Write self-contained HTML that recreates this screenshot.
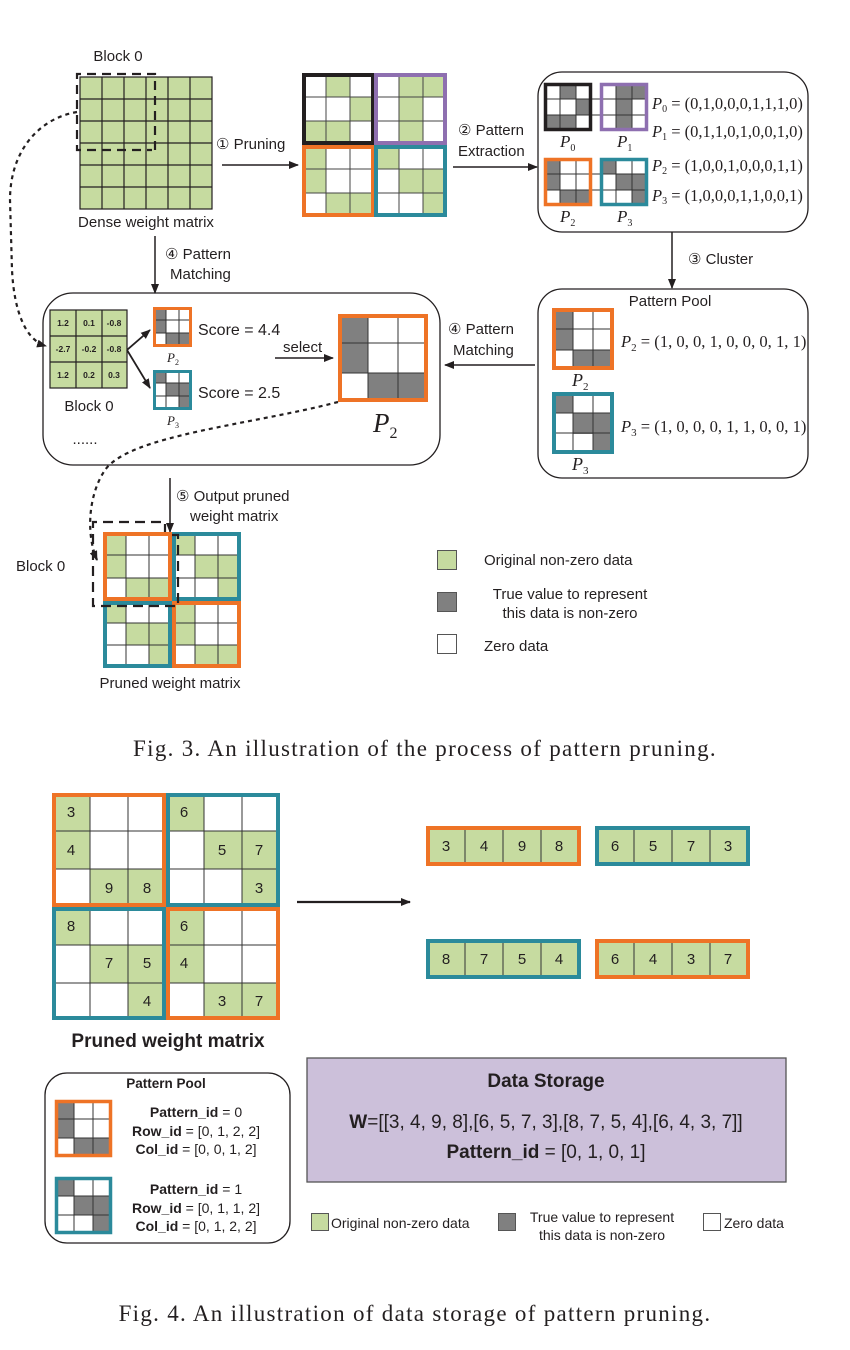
<!DOCTYPE html>
<html><head><meta charset="utf-8"><style>
html,body{margin:0;padding:0;background:#fff;}
svg{display:block;}
text{font-family:"Liberation Sans",Arial,sans-serif;fill:#231f20;}
.s{font-family:"Liberation Serif",serif;}
.i{font-family:"Liberation Serif",serif;font-style:italic;}
</style></head><body>
<svg width="850" height="1350" viewBox="0 0 850 1350" xmlns="http://www.w3.org/2000/svg">
<defs>
<marker id="ah" markerWidth="10" markerHeight="8" refX="9" refY="4" orient="auto" markerUnits="userSpaceOnUse"><path d="M0,0 L10,4 L0,8 Z" fill="#231f20"/></marker>
</defs>

<!-- ========== FIG 3 ========== -->
<text x="118" y="61" font-size="15" text-anchor="middle">Block 0</text>
<rect x="80" y="77" width="132" height="132" fill="#c6dba0" stroke="#231f20" stroke-width="1.2"/>
<g stroke="#231f20" stroke-width="1.2">
<line x1="102" y1="77" x2="102" y2="209"/><line x1="124" y1="77" x2="124" y2="209"/><line x1="146" y1="77" x2="146" y2="209"/><line x1="168" y1="77" x2="168" y2="209"/><line x1="190" y1="77" x2="190" y2="209"/>
<line x1="80" y1="99" x2="212" y2="99"/><line x1="80" y1="121" x2="212" y2="121"/><line x1="80" y1="143" x2="212" y2="143"/><line x1="80" y1="165" x2="212" y2="165"/><line x1="80" y1="187" x2="212" y2="187"/>
</g>
<path d="M155,150 L155,74 L77,74 L77,150 L152,150" fill="none" stroke="#231f20" stroke-width="2.2" stroke-dasharray="9,6"/>
<text x="146" y="227" font-size="15" text-anchor="middle">Dense weight matrix</text>

<text x="216" y="149" font-size="15"><tspan class="s">①</tspan> Pruning</text>
<line x1="222" y1="165" x2="298" y2="165" stroke="#231f20" stroke-width="1.5" marker-end="url(#ah)"/>

<g>
<rect x="302" y="73" width="145" height="144" fill="#fff"/>
<g fill="#c6dba0">
<rect x="326" y="73" width="24" height="24"/><rect x="350" y="97" width="24" height="24"/><rect x="302" y="121" width="24" height="24"/><rect x="326" y="121" width="24" height="24"/>
<rect x="399" y="73" width="24" height="24"/><rect x="423" y="73" width="24" height="24"/><rect x="399" y="97" width="24" height="24"/><rect x="399" y="121" width="24" height="24"/>
<rect x="302" y="145" width="24" height="24"/><rect x="302" y="169" width="24" height="24"/><rect x="326" y="193" width="24" height="24"/><rect x="350" y="193" width="24" height="24"/>
<rect x="375" y="145" width="24" height="24"/><rect x="399" y="169" width="24" height="24"/><rect x="423" y="169" width="24" height="24"/><rect x="423" y="193" width="24" height="24"/>
</g>
<g stroke="#444" stroke-width="1">
<line x1="326" y1="73" x2="326" y2="217"/><line x1="350" y1="73" x2="350" y2="217"/><line x1="399" y1="73" x2="399" y2="217"/><line x1="423" y1="73" x2="423" y2="217"/>
<line x1="302" y1="97" x2="447" y2="97"/><line x1="302" y1="121" x2="447" y2="121"/><line x1="302" y1="169" x2="447" y2="169"/><line x1="302" y1="193" x2="447" y2="193"/>
</g>
<rect x="304" y="75" width="69" height="68" fill="none" stroke="#231f20" stroke-width="4"/>
<rect x="376" y="75" width="69" height="68" fill="none" stroke="#8e6fb0" stroke-width="4"/>
<rect x="304" y="147" width="69" height="68" fill="none" stroke="#ee7326" stroke-width="4"/>
<rect x="376" y="147" width="69" height="68" fill="none" stroke="#2b8a9b" stroke-width="4"/>
</g>

<text x="458" y="135" font-size="15"><tspan class="s">②</tspan> Pattern</text>
<text x="458" y="156" font-size="15">Extraction</text>
<line x1="453" y1="167" x2="537" y2="167" stroke="#231f20" stroke-width="1.5" marker-end="url(#ah)"/>

<rect x="538" y="72" width="270" height="160" rx="24" fill="none" stroke="#231f20" stroke-width="1.3"/>
<g>
<rect x="544" y="83" width="48" height="48" fill="#fff"/><rect x="600" y="83" width="48" height="48" fill="#fff"/><rect x="544" y="158" width="48" height="48" fill="#fff"/><rect x="600" y="158" width="48" height="48" fill="#fff"/>
<g fill="#808080">
<rect x="560" y="83" width="16" height="16"/><rect x="576" y="99" width="16" height="16"/><rect x="544" y="115" width="16" height="16"/><rect x="560" y="115" width="16" height="16"/>
<rect x="616" y="83" width="16" height="16"/><rect x="632" y="83" width="16" height="16"/><rect x="616" y="99" width="16" height="16"/><rect x="616" y="115" width="16" height="16"/>
<rect x="544" y="158" width="16" height="16"/><rect x="544" y="174" width="16" height="16"/><rect x="560" y="190" width="16" height="16"/><rect x="576" y="190" width="16" height="16"/>
<rect x="600" y="158" width="16" height="16"/><rect x="616" y="174" width="16" height="16"/><rect x="632" y="174" width="16" height="16"/><rect x="632" y="190" width="16" height="16"/>
</g>
<g stroke="#333" stroke-width="1">
<line x1="560" y1="83" x2="560" y2="131"/><line x1="576" y1="83" x2="576" y2="131"/><line x1="616" y1="83" x2="616" y2="131"/><line x1="632" y1="83" x2="632" y2="131"/>
<line x1="544" y1="99" x2="648" y2="99"/><line x1="544" y1="115" x2="648" y2="115"/>
<line x1="560" y1="158" x2="560" y2="206"/><line x1="576" y1="158" x2="576" y2="206"/><line x1="616" y1="158" x2="616" y2="206"/><line x1="632" y1="158" x2="632" y2="206"/>
<line x1="544" y1="174" x2="648" y2="174"/><line x1="544" y1="190" x2="648" y2="190"/>
</g>
<rect x="545.5" y="84.5" width="45" height="45" fill="none" stroke="#231f20" stroke-width="3.5"/>
<rect x="601.5" y="84.5" width="45" height="45" fill="none" stroke="#8e6fb0" stroke-width="3.5"/>
<rect x="545.5" y="159.5" width="45" height="45" fill="none" stroke="#ee7326" stroke-width="3.5"/>
<rect x="601.5" y="159.5" width="45" height="45" fill="none" stroke="#2b8a9b" stroke-width="3.5"/>
</g>
<text x="560" y="147" font-size="17" class="i">P<tspan font-size="10" dy="4" font-style="normal">0</tspan></text>
<text x="617" y="147" font-size="17" class="i">P<tspan font-size="10" dy="4" font-style="normal">1</tspan></text>
<text x="560" y="222" font-size="17" class="i">P<tspan font-size="10" dy="4" font-style="normal">2</tspan></text>
<text x="617" y="222" font-size="17" class="i">P<tspan font-size="10" dy="4" font-style="normal">3</tspan></text>
<g font-size="16.5" class="s">
<text x="652" y="109" class="s"><tspan font-style="italic">P</tspan><tspan font-size="10" dy="3">0</tspan><tspan dy="-3"> = (0,1,0,0,0,1,1,1,0)</tspan></text>
<text x="652" y="137" class="s"><tspan font-style="italic">P</tspan><tspan font-size="10" dy="3">1</tspan><tspan dy="-3"> = (0,1,1,0,1,0,0,1,0)</tspan></text>
<text x="652" y="171" class="s"><tspan font-style="italic">P</tspan><tspan font-size="10" dy="3">2</tspan><tspan dy="-3"> = (1,0,0,1,0,0,0,1,1)</tspan></text>
<text x="652" y="201" class="s"><tspan font-style="italic">P</tspan><tspan font-size="10" dy="3">3</tspan><tspan dy="-3"> = (1,0,0,0,1,1,0,0,1)</tspan></text>
</g>

<line x1="672" y1="232" x2="672" y2="288" stroke="#231f20" stroke-width="1.5" marker-end="url(#ah)"/>
<text x="688" y="264" font-size="15"><tspan class="s">③</tspan> Cluster</text>

<rect x="538" y="289" width="270" height="189" rx="24" fill="none" stroke="#231f20" stroke-width="1.3"/>
<text x="670" y="306" font-size="15" text-anchor="middle">Pattern Pool</text>
<rect x="552" y="308" width="62" height="62" fill="#fff"/><rect x="552" y="392" width="62" height="62" fill="#fff"/>
<g fill="#808080">
<rect x="552" y="308" width="21" height="21"/><rect x="552" y="329" width="21" height="21"/><rect x="573" y="350" width="21" height="20"/><rect x="593" y="350" width="21" height="20"/>
<rect x="552" y="392" width="21" height="21"/><rect x="573" y="413" width="21" height="21"/><rect x="593" y="413" width="21" height="21"/><rect x="593" y="433" width="21" height="21"/>
</g>
<g stroke="#333" stroke-width="1">
<line x1="573" y1="308" x2="573" y2="370"/><line x1="593" y1="308" x2="593" y2="370"/><line x1="552" y1="329" x2="614" y2="329"/><line x1="552" y1="350" x2="614" y2="350"/>
<line x1="573" y1="392" x2="573" y2="454"/><line x1="593" y1="392" x2="593" y2="454"/><line x1="552" y1="413" x2="614" y2="413"/><line x1="552" y1="433" x2="614" y2="433"/>
</g>
<rect x="554" y="310" width="58" height="58" fill="none" stroke="#ee7326" stroke-width="4"/>
<rect x="554" y="394" width="58" height="58" fill="none" stroke="#2b8a9b" stroke-width="4"/>
<text x="572" y="386" font-size="18" class="i">P<tspan font-size="11" dy="4" font-style="normal">2</tspan></text>
<text x="572" y="470" font-size="18" class="i">P<tspan font-size="11" dy="4" font-style="normal">3</tspan></text>
<text x="621" y="347" font-size="16.6" class="s"><tspan font-style="italic">P</tspan><tspan font-size="11" dy="4">2</tspan><tspan dy="-4"> = (1, 0, 0, 1, 0, 0, 0, 1, 1)</tspan></text>
<text x="621" y="432" font-size="16.6" class="s"><tspan font-style="italic">P</tspan><tspan font-size="11" dy="4">3</tspan><tspan dy="-4"> = (1, 0, 0, 0, 1, 1, 0, 0, 1)</tspan></text>

<line x1="535" y1="365" x2="445" y2="365" stroke="#231f20" stroke-width="1.5" marker-end="url(#ah)"/>
<text x="448" y="334" font-size="15"><tspan class="s">④</tspan> Pattern</text>
<text x="453" y="355" font-size="15">Matching</text>

<line x1="155" y1="236" x2="155" y2="293" stroke="#231f20" stroke-width="1.5" marker-end="url(#ah)"/>
<text x="165" y="259" font-size="15"><tspan class="s">④</tspan> Pattern</text>
<text x="170" y="279" font-size="15">Matching</text>

<rect x="43" y="293" width="397" height="172" rx="30" fill="none" stroke="#231f20" stroke-width="1.3"/>
<rect x="50" y="310" width="77" height="78" fill="#c6dba0" stroke="#231f20" stroke-width="1.2"/>
<g stroke="#231f20" stroke-width="1.2"><line x1="76" y1="310" x2="76" y2="388"/><line x1="102" y1="310" x2="102" y2="388"/><line x1="50" y1="336" x2="127" y2="336"/><line x1="50" y1="362" x2="127" y2="362"/></g>
<g font-size="8.5" text-anchor="middle" font-weight="bold">
<text x="63" y="326">1.2</text><text x="89" y="326">0.1</text><text x="114" y="326">-0.8</text>
<text x="63" y="352">-2.7</text><text x="89" y="352">-0.2</text><text x="114" y="352">-0.8</text>
<text x="63" y="378">1.2</text><text x="89" y="378">0.2</text><text x="114" y="378">0.3</text>
</g>
<text x="89" y="411" font-size="15" text-anchor="middle">Block 0</text>
<text x="85" y="444" font-size="15" text-anchor="middle">......</text>
<line x1="127" y1="350" x2="150" y2="330" stroke="#231f20" stroke-width="1.8" marker-end="url(#ah)"/>
<line x1="127" y1="350" x2="150" y2="388" stroke="#231f20" stroke-width="1.8" marker-end="url(#ah)"/>
<rect x="153" y="307" width="39" height="40" fill="#fff"/><rect x="153" y="370" width="39" height="40" fill="#fff"/>
<g fill="#808080">
<rect x="153" y="307" width="13" height="13"/><rect x="153" y="320" width="13" height="13"/><rect x="166" y="333" width="13" height="14"/><rect x="179" y="333" width="13" height="14"/>
<rect x="153" y="370" width="13" height="13"/><rect x="166" y="383" width="13" height="13"/><rect x="179" y="383" width="13" height="13"/><rect x="179" y="396" width="13" height="14"/>
</g>
<g stroke="#333" stroke-width="1">
<line x1="166" y1="307" x2="166" y2="347"/><line x1="179" y1="307" x2="179" y2="347"/><line x1="153" y1="320" x2="192" y2="320"/><line x1="153" y1="333" x2="192" y2="333"/>
<line x1="166" y1="370" x2="166" y2="410"/><line x1="179" y1="370" x2="179" y2="410"/><line x1="153" y1="383" x2="192" y2="383"/><line x1="153" y1="396" x2="192" y2="396"/>
</g>
<rect x="154.5" y="308.5" width="36" height="37" fill="none" stroke="#ee7326" stroke-width="3"/>
<rect x="154.5" y="371.5" width="36" height="37" fill="none" stroke="#2b8a9b" stroke-width="3"/>
<text x="167" y="362" font-size="13" class="i">P<tspan font-size="8" dy="3" font-style="normal">2</tspan></text>
<text x="167" y="425" font-size="13" class="i">P<tspan font-size="8" dy="3" font-style="normal">3</tspan></text>
<text x="198" y="335" font-size="16">Score = 4.4</text>
<text x="198" y="398" font-size="16">Score = 2.5</text>
<text x="283" y="352" font-size="15">select</text>
<line x1="275" y1="358" x2="333" y2="358" stroke="#231f20" stroke-width="1.5" marker-end="url(#ah)"/>
<rect x="338" y="314" width="90" height="88" fill="#fff"/>
<g fill="#808080"><rect x="338" y="314" width="30" height="29"/><rect x="338" y="343" width="30" height="30"/><rect x="368" y="373" width="30" height="29"/><rect x="398" y="373" width="30" height="29"/></g>
<g stroke="#333" stroke-width="1"><line x1="368" y1="314" x2="368" y2="402"/><line x1="398" y1="314" x2="398" y2="402"/><line x1="338" y1="343" x2="428" y2="343"/><line x1="338" y1="373" x2="428" y2="373"/></g>
<rect x="340" y="316" width="86" height="84" fill="none" stroke="#ee7326" stroke-width="4"/>
<text x="373" y="432" font-size="27" class="i">P<tspan font-size="16" dy="6" font-style="normal">2</tspan></text>

<path d="M77,112 C40,118 10,150 10,200 L12,270 C14,310 25,340 46,346" fill="none" stroke="#231f20" stroke-width="2.2" stroke-dasharray="4,4" marker-end="url(#ah)"/>
<path d="M338,402 C250,425 130,435 105,470 C88,495 86,535 97,560" fill="none" stroke="#231f20" stroke-width="2.2" stroke-dasharray="4,4" marker-end="url(#ah)"/>

<line x1="170" y1="478" x2="170" y2="532" stroke="#231f20" stroke-width="1.5" marker-end="url(#ah)"/>
<text x="176" y="501" font-size="15"><tspan class="s">⑤</tspan> Output pruned</text>
<text x="190" y="521" font-size="15">weight matrix</text>

<rect x="103" y="532" width="138" height="136" fill="#fff"/>
<g fill="#c6dba0">
<rect x="103" y="532" width="23" height="23"/><rect x="103" y="555" width="23" height="23"/><rect x="126" y="578" width="23" height="23"/><rect x="149" y="578" width="23" height="23"/>
<rect x="172" y="532" width="23" height="23"/><rect x="195" y="555" width="23" height="23"/><rect x="218" y="555" width="23" height="23"/><rect x="218" y="578" width="23" height="23"/>
<rect x="103" y="601" width="23" height="22"/><rect x="126" y="623" width="23" height="22"/><rect x="149" y="623" width="23" height="22"/><rect x="149" y="645" width="23" height="23"/>
<rect x="172" y="601" width="23" height="22"/><rect x="172" y="623" width="23" height="22"/><rect x="195" y="645" width="23" height="23"/><rect x="218" y="645" width="23" height="23"/>
</g>
<g stroke="#333" stroke-width="1">
<line x1="126" y1="532" x2="126" y2="668"/><line x1="149" y1="532" x2="149" y2="668"/><line x1="195" y1="532" x2="195" y2="668"/><line x1="218" y1="532" x2="218" y2="668"/>
<line x1="103" y1="555" x2="241" y2="555"/><line x1="103" y1="578" x2="241" y2="578"/><line x1="103" y1="623" x2="241" y2="623"/><line x1="103" y1="645" x2="241" y2="645"/>
</g>
<rect x="105" y="534" width="65" height="65" fill="none" stroke="#ee7326" stroke-width="4"/>
<rect x="174" y="534" width="65" height="65" fill="none" stroke="#2b8a9b" stroke-width="4"/>
<rect x="105" y="603" width="65" height="63" fill="none" stroke="#2b8a9b" stroke-width="4"/>
<rect x="174" y="603" width="65" height="63" fill="none" stroke="#ee7326" stroke-width="4"/>
<path d="M172,535 L178,535 L178,606 L93,606 L93,522 L165,522 L165,532" fill="none" stroke="#231f20" stroke-width="2.2" stroke-dasharray="10,6"/>
<text x="16" y="571" font-size="15">Block 0</text>
<text x="170" y="688" font-size="15" text-anchor="middle">Pruned weight matrix</text>

<rect x="437.5" y="550.5" width="19" height="19" fill="#c6dba0" stroke="#555"/>
<rect x="437.5" y="592.5" width="19" height="19" fill="#808080" stroke="#555"/>
<rect x="437.5" y="634.5" width="19" height="19" fill="#fff" stroke="#555"/>
<text x="484" y="565" font-size="15">Original non-zero data</text>
<text x="570" y="599" font-size="15" text-anchor="middle">True value to represent</text>
<text x="570" y="618" font-size="15" text-anchor="middle">this data is non-zero</text>
<text x="484" y="651" font-size="15">Zero data</text>

<text x="425" y="756" font-size="23" letter-spacing="1.3" class="s" text-anchor="middle">Fig. 3.  An illustration of the process of pattern pruning.</text>

<!-- ========== FIG 4 ========== -->
<rect x="52" y="793" width="228" height="227" fill="#fff"/>
<g fill="#c6dba0">
<rect x="52" y="793" width="38" height="38"/><rect x="52" y="831" width="38" height="38"/><rect x="90" y="869" width="38" height="38"/><rect x="128" y="869" width="38" height="38"/>
<rect x="166" y="793" width="38" height="38"/><rect x="204" y="831" width="38" height="38"/><rect x="242" y="831" width="38" height="38"/><rect x="242" y="869" width="38" height="38"/>
<rect x="52" y="907" width="38" height="38"/><rect x="90" y="945" width="38" height="38"/><rect x="128" y="945" width="38" height="38"/><rect x="128" y="983" width="38" height="37"/>
<rect x="166" y="907" width="38" height="38"/><rect x="166" y="945" width="38" height="38"/><rect x="204" y="983" width="38" height="37"/><rect x="242" y="983" width="38" height="37"/>
</g>
<g stroke="#333" stroke-width="1">
<line x1="90" y1="793" x2="90" y2="1020"/><line x1="128" y1="793" x2="128" y2="1020"/><line x1="204" y1="793" x2="204" y2="1020"/><line x1="242" y1="793" x2="242" y2="1020"/>
<line x1="52" y1="831" x2="280" y2="831"/><line x1="52" y1="869" x2="280" y2="869"/><line x1="52" y1="945" x2="280" y2="945"/><line x1="52" y1="983" x2="280" y2="983"/>
</g>
<rect x="54" y="795" width="110" height="110" fill="none" stroke="#ee7326" stroke-width="4"/>
<rect x="168" y="795" width="110" height="110" fill="none" stroke="#2b8a9b" stroke-width="4"/>
<rect x="54" y="909" width="110" height="109" fill="none" stroke="#2b8a9b" stroke-width="4"/>
<rect x="168" y="909" width="110" height="109" fill="none" stroke="#ee7326" stroke-width="4"/>
<g font-size="15" text-anchor="middle">
<text x="71" y="817">3</text><text x="71" y="855">4</text><text x="109" y="893">9</text><text x="147" y="893">8</text>
<text x="184" y="817">6</text><text x="222" y="855">5</text><text x="259" y="855">7</text><text x="259" y="893">3</text>
<text x="71" y="931">8</text><text x="109" y="968">7</text><text x="147" y="968">5</text><text x="147" y="1006">4</text>
<text x="184" y="931">6</text><text x="184" y="968">4</text><text x="222" y="1006">3</text><text x="259" y="1006">7</text>
</g>
<text x="168" y="1047" font-size="19" font-weight="bold" text-anchor="middle">Pruned weight matrix</text>

<line x1="297" y1="902" x2="410" y2="902" stroke="#231f20" stroke-width="2.2" marker-end="url(#ah)"/>

<g>
<rect x="426" y="826" width="155" height="40" fill="#c6dba0"/><rect x="595" y="826" width="155" height="40" fill="#c6dba0"/>
<rect x="426" y="939" width="155" height="40" fill="#c6dba0"/><rect x="595" y="939" width="155" height="40" fill="#c6dba0"/>
<g stroke="#333" stroke-width="1">
<line x1="465" y1="826" x2="465" y2="866"/><line x1="503" y1="826" x2="503" y2="866"/><line x1="541" y1="826" x2="541" y2="866"/>
<line x1="634" y1="826" x2="634" y2="866"/><line x1="672" y1="826" x2="672" y2="866"/><line x1="710" y1="826" x2="710" y2="866"/>
<line x1="465" y1="939" x2="465" y2="979"/><line x1="503" y1="939" x2="503" y2="979"/><line x1="541" y1="939" x2="541" y2="979"/>
<line x1="634" y1="939" x2="634" y2="979"/><line x1="672" y1="939" x2="672" y2="979"/><line x1="710" y1="939" x2="710" y2="979"/>
</g>
<rect x="428" y="828" width="151" height="36" fill="none" stroke="#ee7326" stroke-width="4"/>
<rect x="597" y="828" width="151" height="36" fill="none" stroke="#2b8a9b" stroke-width="4"/>
<rect x="428" y="941" width="151" height="36" fill="none" stroke="#2b8a9b" stroke-width="4"/>
<rect x="597" y="941" width="151" height="36" fill="none" stroke="#ee7326" stroke-width="4"/>
<g font-size="15" text-anchor="middle">
<text x="446" y="851">3</text><text x="484" y="851">4</text><text x="522" y="851">9</text><text x="559" y="851">8</text>
<text x="615" y="851">6</text><text x="653" y="851">5</text><text x="691" y="851">7</text><text x="728" y="851">3</text>
<text x="446" y="964">8</text><text x="484" y="964">7</text><text x="522" y="964">5</text><text x="559" y="964">4</text>
<text x="615" y="964">6</text><text x="653" y="964">4</text><text x="691" y="964">3</text><text x="728" y="964">7</text>
</g>
</g>

<rect x="45" y="1073" width="245" height="170" rx="22" fill="none" stroke="#231f20" stroke-width="1.3"/>
<text x="166" y="1088" font-size="13.5" font-weight="bold" text-anchor="middle">Pattern Pool</text>
<rect x="55" y="1100" width="57" height="57" fill="#fff"/><rect x="55" y="1177" width="57" height="57" fill="#fff"/>
<g fill="#808080">
<rect x="55" y="1100" width="19" height="19"/><rect x="55" y="1119" width="19" height="19"/><rect x="74" y="1138" width="19" height="19"/><rect x="93" y="1138" width="19" height="19"/>
<rect x="55" y="1177" width="19" height="19"/><rect x="74" y="1196" width="19" height="19"/><rect x="93" y="1196" width="19" height="19"/><rect x="93" y="1215" width="19" height="19"/>
</g>
<g stroke="#333" stroke-width="1">
<line x1="74" y1="1100" x2="74" y2="1157"/><line x1="93" y1="1100" x2="93" y2="1157"/><line x1="55" y1="1119" x2="112" y2="1119"/><line x1="55" y1="1138" x2="112" y2="1138"/>
<line x1="74" y1="1177" x2="74" y2="1234"/><line x1="93" y1="1177" x2="93" y2="1234"/><line x1="55" y1="1196" x2="112" y2="1196"/><line x1="55" y1="1215" x2="112" y2="1215"/>
</g>
<rect x="56.5" y="1101.5" width="54" height="54" fill="none" stroke="#ee7326" stroke-width="3.5"/>
<rect x="56.5" y="1178.5" width="54" height="54" fill="none" stroke="#2b8a9b" stroke-width="3.5"/>
<g font-size="14" text-anchor="middle">
<text x="196" y="1117"><tspan font-weight="bold">Pattern_id</tspan> = 0</text>
<text x="196" y="1136"><tspan font-weight="bold">Row_id</tspan> = [0, 1, 2, 2]</text>
<text x="196" y="1154"><tspan font-weight="bold">Col_id</tspan> = [0, 0, 1, 2]</text>
<text x="196" y="1194"><tspan font-weight="bold">Pattern_id</tspan> = 1</text>
<text x="196" y="1213"><tspan font-weight="bold">Row_id</tspan> = [0, 1, 1, 2]</text>
<text x="196" y="1231"><tspan font-weight="bold">Col_id</tspan> = [0, 1, 2, 2]</text>
</g>

<rect x="307" y="1058" width="479" height="124" fill="#ccc0da" stroke="#555" stroke-width="1.3"/>
<text x="546" y="1087" font-size="19" font-weight="bold" text-anchor="middle">Data Storage</text>
<text x="546" y="1128" font-size="19" text-anchor="middle"><tspan font-weight="bold">W</tspan>=[[3, 4, 9, 8],[6, 5, 7, 3],[8, 7, 5, 4],[6, 4, 3, 7]]</text>
<text x="546" y="1158" font-size="19" text-anchor="middle"><tspan font-weight="bold">Pattern_id</tspan> = [0, 1, 0, 1]</text>

<rect x="311.5" y="1213.5" width="17" height="17" fill="#c6dba0" stroke="#555"/>
<rect x="498.5" y="1213.5" width="17" height="17" fill="#808080" stroke="#555"/>
<rect x="703.5" y="1213.5" width="17" height="17" fill="#fff" stroke="#555"/>
<text x="331" y="1228" font-size="14">Original non-zero data</text>
<text x="602" y="1222" font-size="14" text-anchor="middle">True value to represent</text>
<text x="602" y="1240" font-size="14" text-anchor="middle">this data is non-zero</text>
<text x="724" y="1228" font-size="14">Zero data</text>

<text x="415" y="1321" font-size="23" letter-spacing="1.3" class="s" text-anchor="middle">Fig. 4.  An illustration of data storage of pattern pruning.</text>
</svg>
</body></html>
